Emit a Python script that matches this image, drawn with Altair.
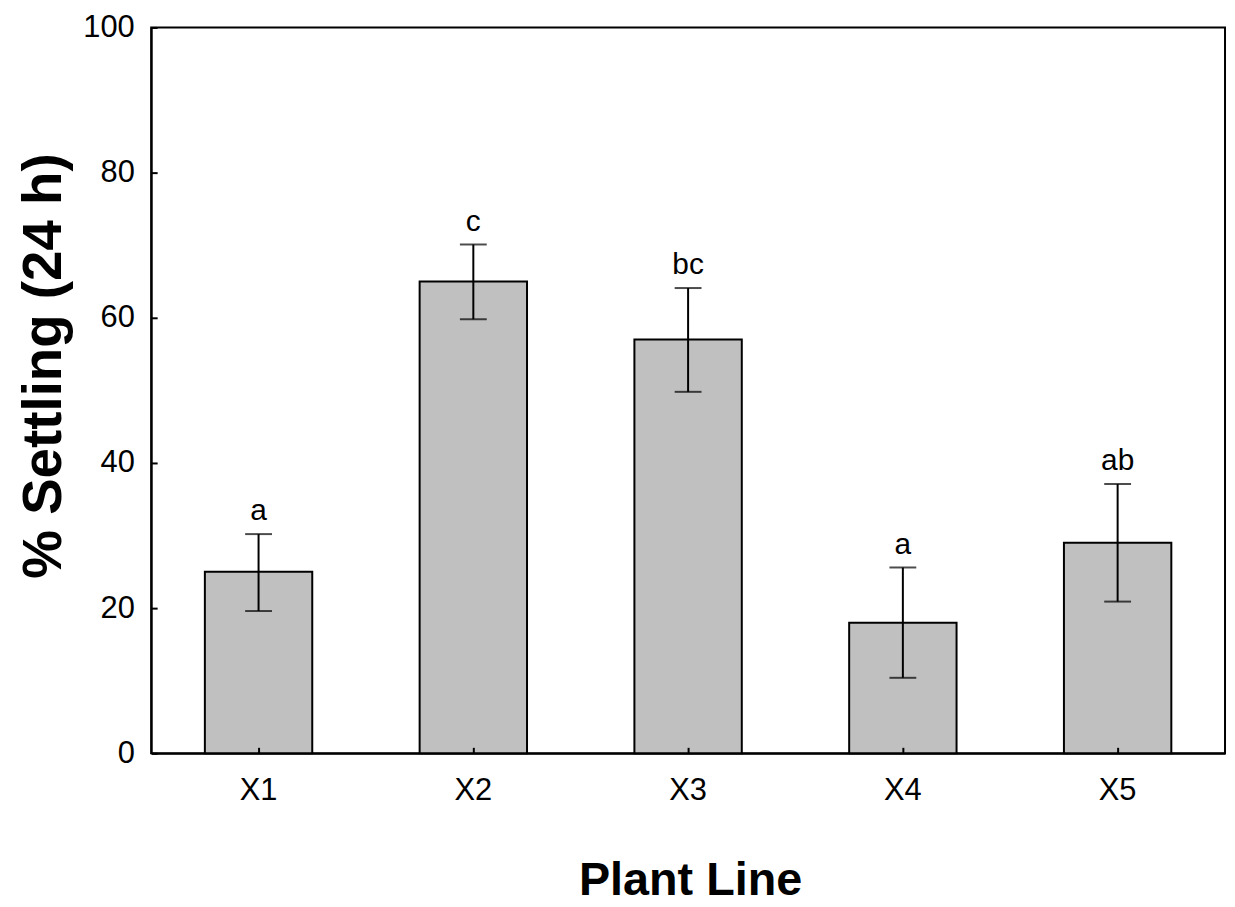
import altair as alt
import pandas as pd

lines = ["X1", "X2", "X3", "X4", "X5"]
means = [25.0, 65.0, 57.0, 18.0, 29.0]
lower = [19.6, 59.8, 49.8, 10.4, 20.9]
upper = [30.2, 70.1, 64.1, 25.6, 37.1]
letters = ["a", "c", "bc", "a", "ab"]
y_ticks = [0, 20, 40, 60, 80, 100]

df = pd.DataFrame({"line": lines, "mean": means, "lo": lower, "hi": upper, "letter": letters})

FONT = "Liberation Sans"
W, H = 1080, 730
xscale = alt.Scale(paddingInner=0.5, paddingOuter=0.25)
yscale = alt.Scale(domain=[0, 100], nice=False, zero=True)

base = alt.Chart(df)

bars = base.mark_bar(fill="#c0c0c0", stroke="black", strokeWidth=2).encode(
    x=alt.X("line:N", scale=xscale, sort=lines,
            axis=alt.Axis(title="Plant Line", orient="bottom", labelAngle=0, labelFontSize=31,
                          labelFont=FONT, labelColor="black", labelBaseline="alphabetic",
                          labelPadding=46, ticks=False, tickSize=0, domain=True,
                          domainColor="black", domainWidth=2, titleFont=FONT,
                          titleFontSize=47, titleFontWeight="bold", titleColor="black",
                          titleBaseline="alphabetic", titleY=142, titleX=542)),
    y=alt.Y("mean:Q", scale=yscale,
            axis=alt.Axis(title="% Settling (24 h)", orient="left", values=y_ticks,
                          labelFontSize=31, labelFont=FONT, labelColor="black",
                          labelPadding=17, ticks=False, tickSize=0, domain=True,
                          domainColor="black", domainWidth=2, titleFont=FONT,
                          titleFontSize=55, titleFontWeight="bold", titleColor="black",
                          titleBaseline="alphabetic", titleX=-91, titleY=340)),
)

# inward tick marks: axes on the opposite side, shifted across the plot
tick_axis_x = alt.Axis(orient="top", offset=-H, tickSize=6, ticks=True, tickColor="black",
                       tickWidth=2, labels=False, domain=False, title="", zindex=1, grid=False)
tick_axis_y = alt.Axis(orient="right", offset=-W, tickSize=6, ticks=True, tickColor="black",
                       tickWidth=2, labels=False, domain=False, title="", zindex=1,
                       values=y_ticks, grid=False)

caps_hi = base.mark_tick(color="black", size=27, thickness=2).encode(
    x=alt.X("line:N", scale=xscale, sort=lines, axis=tick_axis_x),
    y=alt.Y("hi:Q", scale=yscale, axis=tick_axis_y),
)

caps_lo = base.mark_tick(color="black", size=27, thickness=2).encode(
    x=alt.X("line:N", scale=xscale, sort=lines, axis=None),
    y=alt.Y("lo:Q", scale=yscale, axis=None),
)

rules = base.mark_rule(color="black", strokeWidth=2).encode(
    x=alt.X("line:N", scale=xscale, sort=lines, axis=None),
    y=alt.Y("lo:Q", scale=yscale, axis=None),
    y2="hi:Q",
)

labels = base.mark_text(baseline="alphabetic", dy=-14, fontSize=30, font=FONT, color="black").encode(
    x=alt.X("line:N", scale=xscale, sort=lines, axis=None),
    y=alt.Y("hi:Q", scale=yscale, axis=None),
    text="letter:N",
)

chart = alt.layer(bars, rules, caps_hi, caps_lo, labels).resolve_axis(
    x="independent", y="independent"
).properties(
    width=W, height=H, autosize="none",
    padding={"left": 144, "top": 17, "right": 2, "bottom": 150},
).configure_view(stroke="black", strokeWidth=2).configure_axis(grid=False)

chart.save("out.html", embed_options={"renderer": "svg", "actions": False})
